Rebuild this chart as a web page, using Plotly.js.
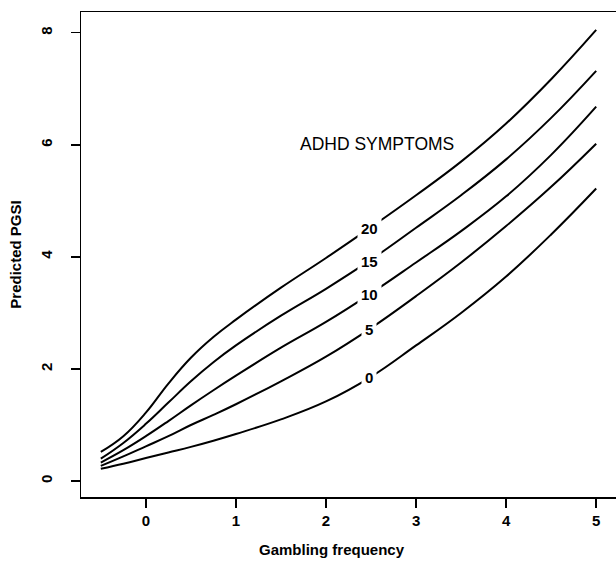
<!DOCTYPE html>
<html>
<head>
<meta charset="utf-8">
<script src="https://cdn.plot.ly/plotly-3.0.1.min.js"></script>
<style>html,body{margin:0;padding:0;background:#fff;}#chart{width:616px;height:562px;}</style>
</head>
<body>
<div id="chart"></div>
<script>
// Gambling frequency values (x)
const gambling = [-0.5, -0.25, 0, 0.25, 0.5, 0.75, 1, 1.5, 2, 2.5, 3, 3.5, 4, 4.5, 5];
// Predicted PGSI for each ADHD symptoms level
const adhdLevels = ["0", "5", "10", "15", "20"];
const pgsi0  = [0.22, 0.31, 0.41, 0.51, 0.61, 0.72, 0.84, 1.10, 1.42, 1.86, 2.42, 3.00, 3.65, 4.40, 5.22];
const pgsi5  = [0.27, 0.44, 0.62, 0.80, 1.00, 1.18, 1.37, 1.78, 2.22, 2.73, 3.30, 3.90, 4.55, 5.25, 6.02];
const pgsi10 = [0.33, 0.55, 0.80, 1.07, 1.35, 1.62, 1.88, 2.38, 2.84, 3.35, 3.90, 4.46, 5.08, 5.82, 6.68];
const pgsi15 = [0.40, 0.68, 1.02, 1.40, 1.78, 2.12, 2.42, 2.95, 3.43, 3.95, 4.52, 5.10, 5.74, 6.48, 7.32];
const pgsi20 = [0.52, 0.80, 1.22, 1.74, 2.20, 2.57, 2.88, 3.45, 3.98, 4.53, 5.10, 5.70, 6.38, 7.17, 8.05];
const series = [pgsi0, pgsi5, pgsi10, pgsi15, pgsi20];
// label positions (gambling frequency where each level label sits)
const labelX = 2.48;
const labelY = [1.84, 2.71, 3.33, 3.92, 4.51];
const xTicks = [0, 1, 2, 3, 4, 5];
const yTicks = [0, 2, 4, 6, 8];

const FONT = "Liberation Sans, Arial, sans-serif";

const traces = series.map((ys, i) => ({
  x: gambling, y: ys, type: "scatter", mode: "lines",
  line: {color: "#000", width: 2, shape: "spline", smoothing: 1.2},
  name: adhdLevels[i], showlegend: false, hoverinfo: "skip"
}));

const annotations = adhdLevels.map((lab, i) => ({
  x: labelX, y: labelY[i], xref: "x", yref: "y", text: "<b>" + lab + "</b>", showarrow: false,
  font: {family: FONT, size: 15, color: "#000"}, bgcolor: "#fff", borderpad: 3
}));
annotations.push({
  x: 2.57, y: 6.02, xref: "x", yref: "y", text: "ADHD SYMPTOMS", showarrow: false,
  font: {family: FONT, size: 17.5, color: "#000"}
});
annotations.push({
  x: 0.469, y: -0.109, xref: "paper", yref: "paper", text: "<b>Gambling frequency</b>",
  showarrow: false, yanchor: "middle", xanchor: "center",
  font: {family: FONT, size: 15, color: "#000"}
});

const layout = {
  width: 616, height: 562,
  margin: {l: 81, r: 0, t: 12, b: 65},
  paper_bgcolor: "#fff", plot_bgcolor: "#fff",
  font: {family: FONT, color: "#000"},
  xaxis: {
    range: [-0.72, 5.22], tickvals: xTicks, ticktext: xTicks.map(v => "<b>" + v + "</b>"),
    ticks: "outside", ticklen: 9, tickwidth: 1.5, tickcolor: "#000",
    showline: true, mirror: true, linecolor: "#000", linewidth: 1.5,
    showgrid: false, zeroline: false,
    tickfont: {family: FONT, size: 15, color: "#000"}
  },
  yaxis: {
    range: [-0.285, 8.37], tickvals: yTicks, ticktext: yTicks.map(v => "<b>" + v + "</b>"),
    ticks: "outside", ticklen: 9, tickwidth: 1.5, tickcolor: "#000",
    tickangle: -90, ticklabelstandoff: 13,
    showline: true, mirror: true, linecolor: "#000", linewidth: 1.5,
    showgrid: false, zeroline: false,
    tickfont: {family: FONT, size: 15, color: "#000"},
    title: {text: "<b>Predicted PGSI</b>", font: {family: FONT, size: 15, color: "#000"}, standoff: 12}
  },
  annotations: annotations
};

Plotly.newPlot("chart", traces, layout, {displayModeBar: false, staticPlot: true});
</script>
</body>
</html>
